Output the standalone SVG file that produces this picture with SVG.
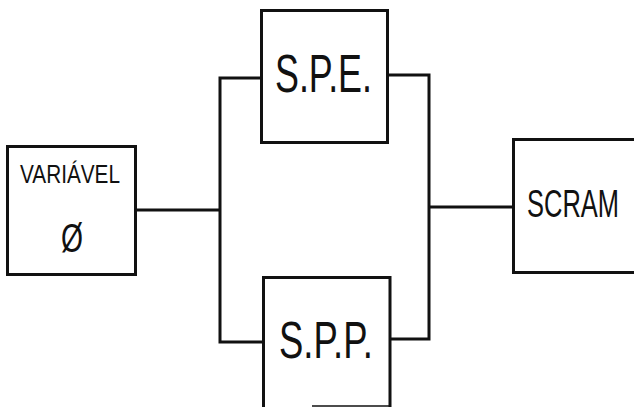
<svg xmlns="http://www.w3.org/2000/svg" width="634" height="407" viewBox="0 0 634 407">
<style>
.box{fill:#fff;stroke:#111;stroke-width:3}
.ln{fill:none;stroke:#111;stroke-width:3}
.t{font-family:"Liberation Sans",Arial,sans-serif;fill:#111}
</style>
<rect width="634" height="407" fill="#fff"/>
<g id="connectors">
<polyline class="ln" points="136,210 220,210"/>
<polyline class="ln" points="261,78 220,78 220,342 263,342"/>
<polyline class="ln" points="387,75 429,75 429,339 390,339"/>
<polyline class="ln" points="429,207 513,207"/>
</g>
<g id="variavel">
<rect class="box" x="7.5" y="146.5" width="128" height="128"/>
<text class="t" x="20" y="183" font-size="26" textLength="100" lengthAdjust="spacingAndGlyphs">VARIÁVEL</text>
<text class="t" x="61" y="252" font-size="40" textLength="22" lengthAdjust="spacingAndGlyphs">Ø</text>
</g>
<g id="spe">
<rect class="box" x="261.5" y="10.5" width="126" height="132"/>
<text class="t" x="275" y="92" font-size="54" textLength="97" lengthAdjust="spacingAndGlyphs">S.P.E.</text>
</g>
<g id="spp">
<path class="ln" d="M263.5,410 V277.5 H390 V410"/>
<line x1="312" y1="406" x2="389" y2="406" stroke="#111" stroke-width="1.5"/>
<text class="t" x="279" y="358" font-size="52" textLength="94" lengthAdjust="spacingAndGlyphs">S.P.P.</text>
</g>
<g id="scram">
<path class="box" d="M634,139.5 H513.5 V272.5 H634"/>
<text class="t" x="527" y="217" font-size="39" textLength="92" lengthAdjust="spacingAndGlyphs">SCRAM</text>
</g>
</svg>
